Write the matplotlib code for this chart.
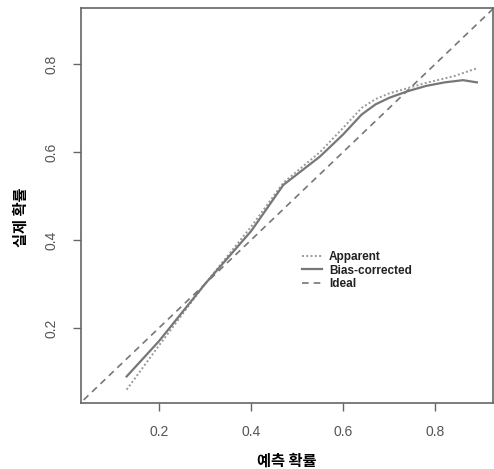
import numpy as np
import matplotlib.pyplot as plt

# 예측 확률 vs 실제 확률 (calibration plot)
app_x = [0.13, 0.20, 0.30, 0.40, 0.47, 0.55, 0.60, 0.64, 0.67, 0.70, 0.74, 0.78, 0.84, 0.89]
app_y = [0.06, 0.16, 0.30, 0.43, 0.53, 0.60, 0.655, 0.70, 0.72, 0.733, 0.745, 0.757, 0.772, 0.79]

bias_x = [0.13, 0.20, 0.30, 0.40, 0.47, 0.55, 0.60, 0.64, 0.67, 0.70, 0.74, 0.78, 0.82, 0.86, 0.89]
bias_y = [0.09, 0.17, 0.30, 0.42, 0.525, 0.59, 0.64, 0.685, 0.708, 0.723, 0.738, 0.75, 0.758, 0.763, 0.758]

ideal = [0.0, 1.0]
xticks = [0.2, 0.4, 0.6, 0.8]
yticks = [0.2, 0.4, 0.6, 0.8]

plt.rcParams['font.family'] = ['Liberation Sans', 'Noto Sans CJK KR', 'DejaVu Sans']

fig = plt.figure(figsize=(4.94, 4.69), dpi=100)
ax = fig.add_axes([0.164, 0.141, 0.834, 0.842])

ax.plot(app_x, app_y, color='#999999', linestyle=(0, (1, 1.2)), linewidth=1.4, label='Apparent')
ax.plot(bias_x, bias_y, color='#777777', linestyle='-', linewidth=1.6, label='Bias-corrected')
ax.plot(ideal, ideal, color='#777777', linestyle=(0, (4, 3)), linewidth=1.2, label='Ideal')

ax.set_xlim(0.031, 0.925)
ax.set_ylim(0.03, 0.927)
ax.set_xticks(xticks)
ax.set_yticks(yticks)
ax.set_xticklabels([str(t) for t in xticks], color='#555555', fontsize=10)
ax.set_yticklabels([str(t) for t in yticks], color='#555555', fontsize=10, rotation=90, va='center')
ax.tick_params(length=6, color='#666666', width=1, pad=10)
for s in ax.spines.values():
    s.set_color('#666666')
    s.set_linewidth(1.2)

ax.set_xlabel('예측 확률', family=['Noto Sans CJK KR'], fontweight='bold', fontsize=11)
ax.set_ylabel('실제 확률', family=['Noto Sans CJK KR'], fontweight='bold', fontsize=11)
ax.xaxis.set_label_coords(0.50, -0.125)
ax.yaxis.set_label_coords(-0.128, 0.47)

leg = ax.legend(loc='center left', bbox_to_anchor=(0.51, 0.335), frameon=False,
                fontsize=8.5, handlelength=1.7, handletextpad=0.6, labelspacing=0.15)
for t in leg.get_texts():
    t.set_fontweight('bold')
    t.set_color('#222222')

fig.savefig('out.png', dpi=100)
